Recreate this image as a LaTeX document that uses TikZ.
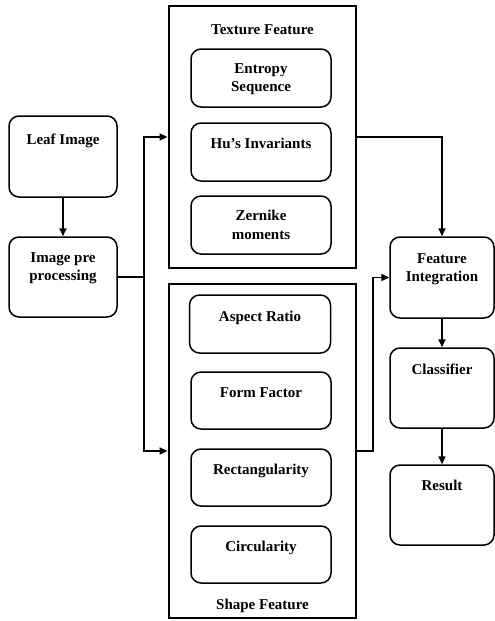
\documentclass[tikz,border=0pt]{standalone}
\usepackage{fontspec}
\setmainfont{Liberation Serif}
\usetikzlibrary{arrows.meta}
\tikzset{
  rbox/.style={draw, line width=1.5pt, rounded corners=10pt, inner sep=0pt},
  obox/.style={draw, line width=2.8pt, inner sep=0pt},
  txt/.style={font=\bfseries\fontsize{15}{18.5}\selectfont, align=center, inner sep=0pt, anchor=north},
  arr/.style={line width=1.6pt, -{Triangle[length=8pt,width=7pt]}},
  ln/.style={line width=1.6pt}
}
\begin{document}
\begin{tikzpicture}[x=1pt,y=-1pt]
\useasboundingbox (0,0) rectangle (495,621);
% left column
\node[rbox, minimum width=108pt, minimum height=81pt] (leaf) at (63,156.5) {};
\node[txt] (leaft) at ([yshift=-18pt]leaf.north) {Leaf Image};
\node[rbox, minimum width=108pt, minimum height=80pt] (pre) at (63,277) {};
\node[txt] (pret) at ([yshift=-16pt]pre.north) {Image pre\\processing};
% texture group
\node[obox, minimum width=187pt, minimum height=262pt] (tex) at (262.5,137) {};
\node[txt] (text) at ([yshift=-20pt]tex.north) {Texture Feature};
\node[rbox, minimum width=140pt, minimum height=58pt] (ent) at (261,78) {};
\node[txt] (entt) at ([yshift=-15pt]ent.north) {Entropy\\Sequence};
\node[rbox, minimum width=140pt, minimum height=58pt] (hu) at (261,152) {};
\node[txt] (hut) at ([yshift=-16pt]hu.north) {Hu’s Invariants};
\node[rbox, minimum width=140pt, minimum height=58pt] (zer) at (261,225) {};
\node[txt] (zert) at ([yshift=-15pt]zer.north) {Zernike\\moments};
% shape group
\node[obox, minimum width=187pt, minimum height=334pt] (shp) at (262.5,451) {};
\node[txt] (shpt) at ([yshift=21pt]shp.south) {Shape Feature};
\node[rbox, minimum width=141pt, minimum height=58pt] (asp) at (260,324) {};
\node[txt] (aspt) at ([yshift=-17pt]asp.north) {Aspect Ratio};
\node[rbox, minimum width=140pt, minimum height=57pt] (frm) at (261,400.5) {};
\node[txt] (frmt) at ([yshift=-16pt]frm.north) {Form Factor};
\node[rbox, minimum width=140pt, minimum height=57pt] (rct) at (261,477.5) {};
\node[txt] (rctt) at ([yshift=-16pt]rct.north) {Rectangularity};
\node[rbox, minimum width=140pt, minimum height=57pt] (cir) at (261,554.5) {};
\node[txt] (cirt) at ([yshift=-16pt]cir.north) {Circularity};
% right column
\node[rbox, minimum width=104pt, minimum height=81pt] (fi) at (442,277.5) {};
\node[txt] (fit) at ([yshift=-17pt]fi.north) {Feature\\Integration};
\node[rbox, minimum width=104pt, minimum height=80pt] (cls) at (442,388) {};
\node[txt] (clst) at ([yshift=-16pt]cls.north) {Classifier};
\node[rbox, minimum width=104pt, minimum height=80pt] (res) at (442,505) {};
\node[txt] (rest) at ([yshift=-16pt]res.north) {Result};
% connectors
\coordinate (split) at (144,277);
\draw[arr] (leaf) -- (pre);
\draw[ln] (pre.east) -- (split);
\draw[arr] (split) |- (tex.west);
\draw[arr] (split) |- (shp.west);
\draw[arr] (tex.east) -| (fi.north);
\coordinate (join) at (373,451);
\draw[arr] (shp.east) -- (join) |- (fi.west);
\draw[arr] (fi) -- (cls);
\draw[arr] (cls) -- (res);
\end{tikzpicture}
\end{document}
